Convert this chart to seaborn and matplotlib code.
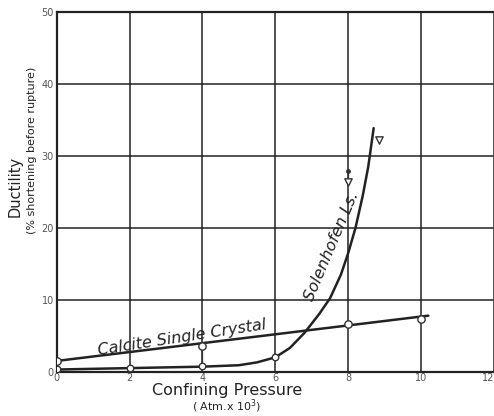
import numpy as np
import pandas as pd
import seaborn as sns
import matplotlib
matplotlib.use("Agg")
import matplotlib.pyplot as plt

# Calcite single crystal: measured points and straight fitted line
calcite_x = [0, 4, 8, 10]
calcite_y = [1.5, 3.6, 6.7, 7.3]
calcite_line_x = [0, 10.2]
calcite_line_y = [1.5, 7.8]

soln_x = [0, 2, 4, 6]
soln_y = [0.4, 0.5, 0.8, 2.0]
soln_tri_x = [8, 8.85]
soln_tri_y = [26.4, 32.2]
soln_curve_x = [0, 2, 4, 5, 5.5, 6, 6.4, 6.8, 7.2, 7.5, 7.8, 8.0, 8.2, 8.4, 8.55, 8.7]
soln_curve_y = [0.3, 0.5, 0.7, 0.9, 1.3, 2.0, 3.3, 5.4, 8.0, 10.2, 13.5, 16.5, 20.0, 24.5, 28.5, 33.9]

# vertical connectors (x, y_low, y_high)
bar_x = [4, 8]
bar_lo = [0.8, 26.4]
bar_hi = [3.6, 28.0]

x_ticks = [0, 2, 4, 6, 8, 10, 12]
y_ticks = [0, 10, 20, 30, 40, 50]

sns.set_style("white")
plt.rcParams['font.family'] = ['DejaVu Sans']

fig = plt.figure(figsize=(4.94, 4.16), dpi=100)
ax = fig.add_axes([0.1148, 0.1065, 0.885, 0.8635])

calc_df = pd.DataFrame({'x': calcite_line_x, 'y': calcite_line_y})
curve_df = pd.DataFrame({'x': soln_curve_x, 'y': soln_curve_y})
sns.lineplot(data=calc_df, x='x', y='y', ax=ax, color='#222222', lw=1.8, sort=False)
sns.lineplot(data=curve_df, x='x', y='y', ax=ax, color='#222222', lw=1.8, sort=False)

ax.vlines(bar_x, bar_lo, bar_hi, color='#333333', lw=0.9)
ax.plot([8], [28.0], marker='o', ms=2.5, color='#333333')

sns.scatterplot(x=calcite_x, y=calcite_y, ax=ax, marker='o', s=28,
                facecolor='white', edgecolor='#333333', linewidth=1.0, zorder=5)
sns.scatterplot(x=soln_x, y=soln_y, ax=ax, marker='o', s=22,
                facecolor='white', edgecolor='#333333', linewidth=1.0, zorder=5)
sns.scatterplot(x=soln_tri_x, y=soln_tri_y, ax=ax, marker='v', s=28,
                facecolor='white', edgecolor='#333333', linewidth=1.0, zorder=5)

ax.set_xlim(0, 12)
ax.set_ylim(0, 50)
ax.set_xticks(x_ticks)
ax.set_yticks(y_ticks)
ax.set_xticklabels([str(t) for t in x_ticks], fontsize=7, color='#555555')
ax.set_yticklabels([str(t) for t in y_ticks], fontsize=7, color='#555555')
# last label sits at the figure edge; keep it inside
ax.get_xticklabels()[-1].set_ha('right')
ax.tick_params(axis='x', length=0, pad=1)
ax.tick_params(axis='y', length=0, pad=2)
ax.grid(True, color='#222222', lw=1.1)
for side in ['left', 'bottom', 'top']:
    ax.spines[side].set_color('#222222')
    ax.spines[side].set_linewidth(1.6)
ax.spines['right'].set_visible(False)
ax.set_xlabel('')
ax.set_ylabel('')

ax.text(3.44, 4.8, 'Calcite Single Crystal', rotation=8.8, style='italic',
        fontsize=11.5, ha='center', va='center', color='#222222')
ax.text(7.55, 17.5, 'Solenhofen Ls.', rotation=67, style='italic',
        fontsize=11.5, ha='center', va='center', color='#222222')

fig.text(227 / 494, 1 - 383 / 416, 'Confining Pressure', fontsize=11.5,
         ha='center', va='top', color='#222222')
fig.text(227 / 494, 1 - 415 / 416, '( Atm.x 10$^3$)', fontsize=8,
         ha='center', va='bottom', color='#222222')
fig.text(15 / 494, 1 - 186 / 416, 'Ductility', fontsize=10.5, rotation=90,
         ha='center', va='center', color='#222222')
fig.text(32 / 494, 1 - 150 / 416, '(% shortening before rupture)', fontsize=8,
         rotation=90, ha='center', va='center', color='#222222')

fig.savefig('out.png', dpi=100)
